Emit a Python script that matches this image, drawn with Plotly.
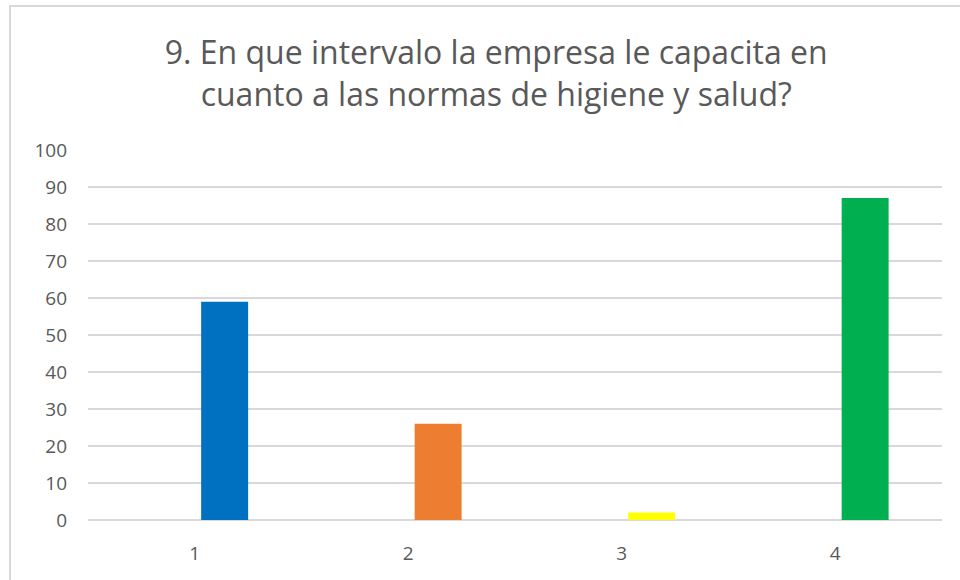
import plotly.graph_objects as go

# data
categories = [1, 2, 3, 4]
values = [59, 26, 2, 87]
bar_colors = ['#0070C0', '#ED7D31', '#FFFF00', '#00B050']
y_ticks = [0, 10, 20, 30, 40, 50, 60, 70, 80, 90, 100]
title_lines = ["9. En que intervalo la empresa le capacita en",
               "cuanto a las normas de higiene y salud?"]

fig = go.Figure(go.Bar(
    x=categories, y=values,
    marker=dict(color=bar_colors, line=dict(width=0)),
    width=0.22, offset=0.03,
    hoverinfo='x+y',
))

font_gray = '#595959'
grid = '#d9d9d9'

fig.update_layout(
    width=960, height=580,
    paper_bgcolor='white', plot_bgcolor='white',
    margin=dict(l=88, r=18, t=150, b=60),
    showlegend=False,
    font=dict(family='Open Sans', color=font_gray),
    title=dict(text="<br>".join(title_lines), x=0.478, xref='paper', xanchor='center',
               y=1 - 64 / 580, yref='container', yanchor='middle',
               font=dict(size=32, color=font_gray, family='Open Sans')),
    xaxis=dict(range=[0.5, 4.5], tickvals=categories, ticktext=[str(c) for c in categories],
               showgrid=False, zeroline=False, showline=False, ticks='',
               tickfont=dict(size=19, color=font_gray), ticklabelstandoff=20),
    yaxis=dict(range=[0, 100], tickvals=y_ticks, showgrid=True, gridcolor=grid, gridwidth=2,
               zeroline=True, zerolinecolor=grid, zerolinewidth=2, showline=False, ticks='',
               tickfont=dict(size=19, color=font_gray), ticklabelstandoff=20),
    shapes=[dict(type='rect', xref='paper', yref='paper',
                 x0=(10 - 88) / 854, x1=(975 - 88) / 854,
                 y0=-0.3, y1=1 + (150 - 6) / 370,
                 line=dict(color='#d9d9d9', width=2), layer='below')],
)

# drop the default page margin so the figure sits at the window's corner
fig.write_html("out.html", config={'displayModeBar': False},
               post_script="document.body.style.margin='0';")
